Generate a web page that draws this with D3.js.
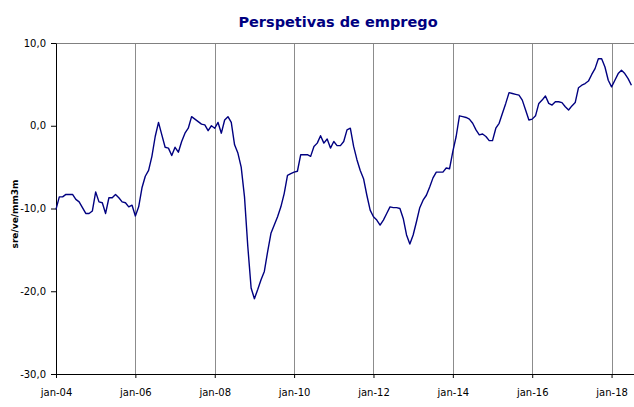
<!DOCTYPE html>
<html>
<head>
<meta charset="utf-8">
<script src="https://cdn.jsdelivr.net/npm/d3@7"></script>
<style>
  body { margin: 0; background: #fff; }
  .chart text { font-family: "DejaVu Sans", Verdana, sans-serif; }
  .axis text { font-size: 10px; fill: #000; }
  .axis path, .axis line { stroke: #000; }
</style>
</head>
<body>
<div class="chart"></div>
<script>
// monthly series, starting jan-04 (sre/ve/mm3m)
var startYear = 2004;
var values = [
  -10.1, -8.6, -8.6, -8.3, -8.3, -8.3, -8.9, -9.2, -9.9, -10.6, -10.6, -10.3,
  -8.0, -9.2, -9.3, -10.6, -8.7, -8.7, -8.3, -8.7, -9.2, -9.3, -9.8, -9.6,
  -10.9, -9.8, -7.5, -6.1, -5.4, -3.7, -1.3, 0.4, -1.1, -2.6, -2.7, -3.6,
  -2.6, -3.2, -1.9, -0.9, -0.3, 1.1, 0.8, 0.5, 0.2, 0.1, -0.6, 0.0,
  -0.3, 0.4, -0.9, 0.7, 1.1, 0.4, -2.3, -3.3, -5.0, -8.6, -14.6, -19.6,
  -20.9, -19.8, -18.6, -17.6, -15.2, -13.0, -12.0, -11.0, -9.8, -8.2, -6.0, -5.8,
  -5.6, -5.5, -3.5, -3.5, -3.5, -3.7, -2.5, -2.1, -1.2, -2.1, -1.6, -2.7,
  -1.9, -2.4, -2.4, -1.9, -0.5, -0.3, -2.5, -4.1, -5.4, -6.4, -8.4, -10.2,
  -11.0, -11.4, -12.0, -11.4, -10.6, -9.8, -9.9, -9.9, -10.0, -11.2, -13.2, -14.3,
  -13.2, -11.6, -9.9, -9.0, -8.4, -7.4, -6.3, -5.6, -5.6, -5.6, -5.1, -5.2,
  -3.1, -1.3, 1.2, 1.1, 1.0, 0.8, 0.3, -0.5, -1.1, -1.0, -1.3, -1.8,
  -1.8, -0.3, 0.3, 1.5, 2.7, 4.0, 3.9, 3.8, 3.7, 3.1, 1.9, 0.7,
  0.8, 1.2, 2.7, 3.1, 3.6, 2.7, 2.5, 2.9, 2.9, 2.8, 2.3, 1.9,
  2.4, 2.8, 4.6, 4.9, 5.1, 5.4, 6.2, 6.9, 8.1, 8.1, 7.1, 5.5,
  4.7, 5.5, 6.3, 6.7, 6.3, 5.7, 4.9
];
var xTickYears = [2004, 2006, 2008, 2010, 2012, 2014, 2016, 2018];
var yTicks = [-30, -20, -10, 0, 10];

var margin = {top: 43, right: 0, bottom: 33, left: 56};
var width = 634 - margin.left - margin.right;
var height = 407 - margin.top - margin.bottom; // 331

var pxPerMonth = 3.307;

var x = d3.scaleLinear()
    .domain([0, 175])
    .range([0, 175 * pxPerMonth]);

var y = d3.scaleLinear()
    .domain([-30, 10])
    .range([height, 0]);

var ptLocale = d3.formatLocale({
  decimal: ",", thousands: ".", grouping: [3], currency: ["", " €"], minus: "-"
});
var fmt = ptLocale.format(".1f");

var xAxis = d3.axisBottom(x)
    .tickValues(xTickYears.map(function(yr) { return (yr - startYear) * 12; }))
    .tickSize(4)
    .tickSizeOuter(0)
    .tickFormat(function(m) {
      var yr = startYear + m / 12;
      return "jan-" + String(yr % 100).padStart(2, "0");
    });

var yAxis = d3.axisLeft(y)
    .tickValues(yTicks)
    .tickSize(5)
    .tickSizeOuter(0)
    .tickFormat(fmt);

var svg = d3.select(".chart").append("svg")
    .attr("width", 634)
    .attr("height", 407);

// title
svg.append("text")
  .attr("x", 338)
  .attr("y", 27)
  .attr("text-anchor", "middle")
  .style("font-size", "14.5px")
  .style("font-weight", "bold")
  .style("fill", "#000080")
  .text("Perspetivas de emprego");

// y label
svg.append("text")
  .attr("transform", "translate(18,214) rotate(-90)")
  .attr("text-anchor", "middle")
  .style("font-size", "9px")
  .style("font-weight", "bold")
  .text("sre/ve/mm3m");

var g = svg.append("g")
    .attr("transform", "translate(" + margin.left + "," + margin.top + ")");

// vertical gridlines
g.selectAll(".grid")
    .data(xTickYears.slice(1))
  .enter().append("line")
    .attr("class", "grid")
    .attr("x1", function(yr) { return Math.round(x((yr - startYear) * 12)) + 0.5; })
    .attr("x2", function(yr) { return Math.round(x((yr - startYear) * 12)) + 0.5; })
    .attr("y1", 0)
    .attr("y2", height)
    .attr("stroke", "#8c8c8c")
    .attr("stroke-width", 1);

// top border
g.append("line")
  .attr("x1", 0).attr("x2", width)
  .attr("y1", 0.5).attr("y2", 0.5)
  .attr("stroke", "#808080");

g.append("g")
  .attr("class", "x axis")
  .attr("transform", "translate(0," + height + ")")
  .call(xAxis)
  .selectAll("text")
  .attr("dy", "1.5em");

g.append("g")
  .attr("class", "y axis")
  .call(yAxis)
  .selectAll("text")
  .attr("x", -10);

var line = d3.line()
    .x(function(d, i) { return x(i); })
    .y(function(d) { return y(d); });

g.append("path")
  .datum(values)
  .attr("fill", "none")
  .attr("stroke", "#000080")
  .attr("stroke-width", 1.4)
  .attr("stroke-linejoin", "round")
  .attr("d", line);
</script>
</body>
</html>
